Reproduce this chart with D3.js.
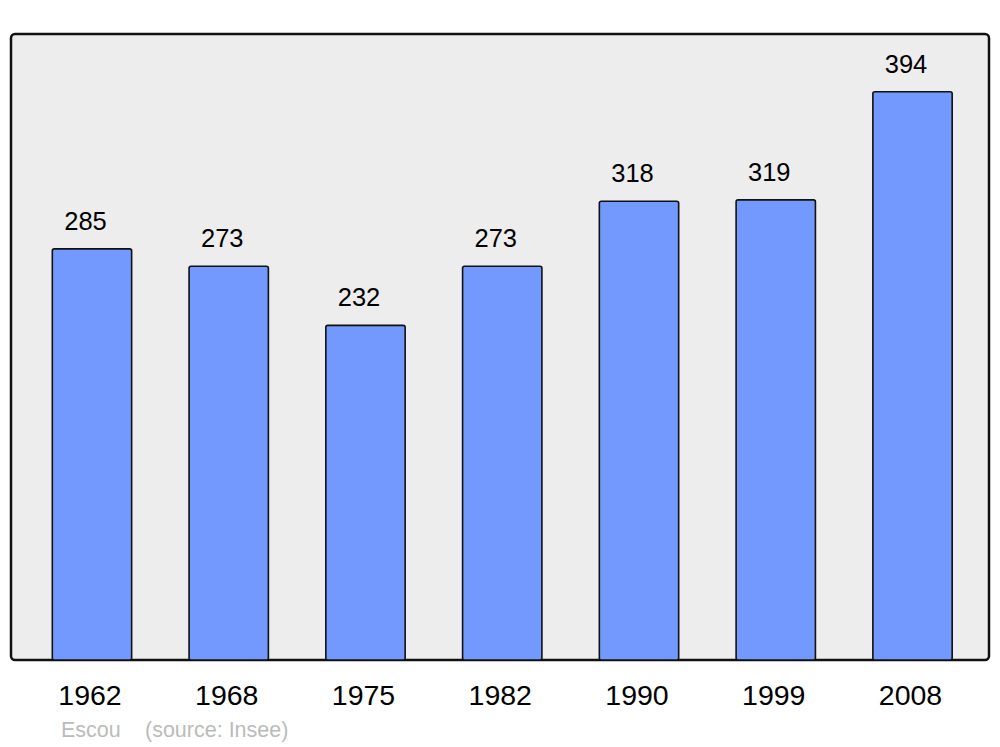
<!DOCTYPE html>
<html><head><meta charset="utf-8">
<script src="https://cdn.jsdelivr.net/npm/d3@7"></script>
<style>body{margin:0;background:#fff}svg{display:block}text{font-family:"Liberation Sans",Arial,sans-serif}</style>
</head><body>
<script>
const years = ["1962","1968","1975","1982","1990","1999","2008"];
const population = [285,273,232,273,318,319,394];
const townLabel = "Escou";
const sourceLabel = "(source: Insee)";

const W = 1000, H = 747;
const svg = d3.select("body").append("svg").attr("width", W).attr("height", H);

const panel = {x0: 11, y0: 34, x1: 989, y1: 660};
svg.append("rect").attr("x", panel.x0).attr("y", panel.y0)
  .attr("width", panel.x1 - panel.x0).attr("height", panel.y1 - panel.y0)
  .attr("rx", 4).attr("fill", "#ededed").attr("stroke", "#111").attr("stroke-width", 2.5);

const x = d3.scaleBand().domain(years).range([23.6, 980.9]).paddingInner(0.42).paddingOuter(0.21);
const y = d3.scaleLinear().domain([0, 434]).range([panel.y1, panel.y0]);

const data = years.map((yr, i) => ({yr, v: population[i]}));

svg.append("g").selectAll("rect").data(data).join("rect")
  .attr("x", d => x(d.yr)).attr("y", d => y(d.v))
  .attr("width", x.bandwidth()).attr("height", d => y(0) - y(d.v))
  .attr("rx", 2).attr("fill", "#7399ff").attr("stroke", "#111").attr("stroke-width", 1.6);

svg.append("g").selectAll("text").data(data).join("text")
  .attr("x", d => x(d.yr) + x.bandwidth() / 2 - 6.5).attr("y", d => y(d.v) - 19)
  .attr("text-anchor", "middle").attr("font-size", 25.5).attr("fill", "#000")
  .text(d => d.v);

const axis = d3.axisBottom(x).tickSize(0).tickPadding(0);
const ag = svg.append("g").attr("transform", `translate(0,${panel.y1})`).call(axis);
ag.select(".domain").remove();
ag.selectAll("text").attr("font-size", 28.5).attr("fill", "#000")
  .attr("dy", null).attr("y", 45).attr("dx", -2)
  .style("font-family", '"Liberation Sans",Arial,sans-serif');

svg.append("text").attr("x", 61).attr("y", 737).attr("font-size", 21.5).attr("fill", "#bbb").text(townLabel);
svg.append("text").attr("x", 145).attr("y", 737).attr("font-size", 21.5).attr("fill", "#bbb").text(sourceLabel);
</script>
</body></html>
